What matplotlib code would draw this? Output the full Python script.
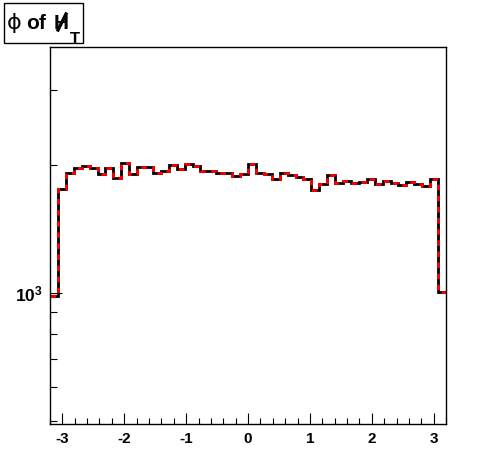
import numpy as np
import matplotlib
matplotlib.use('Agg')
import matplotlib.pyplot as plt
from matplotlib.ticker import FixedLocator, NullFormatter, FixedFormatter, MultipleLocator
from matplotlib.patches import Rectangle
from matplotlib.lines import Line2D

# histogram binning
x_min, x_max, n_bins = -3.2, 3.2, 50
# bin contents
counts = [984, 1757, 1916, 1965, 1987, 1965, 1903, 1965, 1865, 2020,
          1903, 1976, 1976, 1919, 1940, 1998, 1958, 2015, 1993, 1932,
          1932, 1920, 1920, 1888, 1903, 2012, 1913, 1903, 1852, 1919,
          1898, 1878, 1852, 1750, 1803, 1892, 1815, 1835, 1818, 1828,
          1858, 1808, 1837, 1812, 1798, 1828, 1803, 1789, 1858, 1005]
x_ticks = [-3, -2, -1, 0, 1, 2, 3]
x_tick_labels = ['-3', '-2', '-1', '0', '1', '2', '3']
y_major = [1000]
y_major_labels = [r'$\mathbf{10^{3}}$']
y_minor = [500, 600, 700, 800, 900, 2000, 3000]
y_range = (492, 3790)

plt.rcParams['font.family'] = ['Liberation Sans', 'DejaVu Sans']
plt.rcParams['mathtext.fontset'] = 'custom'
plt.rcParams['mathtext.rm'] = 'Liberation Sans'
plt.rcParams['mathtext.bf'] = 'Liberation Sans:bold'

W, H = 496, 472
fig = plt.figure(figsize=(W / 100, H / 100), dpi=100)
fig.patch.set_facecolor('white')

L, R, T, B = 50, 446, 47, 424
ax = fig.add_axes([L / W, 1 - B / H, (R - L) / W, (B - T) / H])

edges = np.linspace(x_min, x_max, n_bins + 1)
ax.stairs(counts, edges, color='black', linewidth=2.0, baseline=None)
ax.stairs(counts, edges, color='red', linewidth=2.0, baseline=None,
          linestyle=(0, (2.0, 2.0)))

ax.set_yscale('log')
ax.set_xlim(x_min, x_max)
ax.set_ylim(*y_range)

ax.xaxis.set_major_locator(FixedLocator(x_ticks))
ax.xaxis.set_major_formatter(FixedFormatter(x_tick_labels))
ax.xaxis.set_minor_locator(MultipleLocator(0.2))
ax.yaxis.set_major_locator(FixedLocator(y_major))
ax.yaxis.set_major_formatter(FixedFormatter(y_major_labels))
ax.yaxis.set_minor_locator(FixedLocator(y_minor))
ax.yaxis.set_minor_formatter(NullFormatter())

ax.tick_params(axis='x', which='major', direction='in', length=8, width=0.8,
               labelsize=11, pad=6, top=False)
ax.tick_params(axis='x', which='minor', direction='in', length=4, width=0.8, top=False)
ax.tick_params(axis='y', which='major', direction='in', length=8.6, width=0.8,
               labelsize=12.5, pad=5, right=False)
ax.tick_params(axis='y', which='minor', direction='in', length=5, width=0.8, right=False)
for lab in ax.get_xticklabels():
    lab.set_fontweight('bold')
for sp in ax.spines.values():
    sp.set_linewidth(1.0)

# title box
def fx(px):
    return px / W

def fy(py):
    return 1 - py / H

fig.add_artist(Rectangle((fx(4), fy(43)), fx(83) - fx(4), fy(3) - fy(43),
                         transform=fig.transFigure, fill=False,
                         edgecolor='black', linewidth=1.0))
fig.text(fx(7), fy(29), '\u03d5', fontsize=16, family=['DejaVu Sans'],
         va='baseline', ha='left')
fig.text(fx(26), fy(29), 'of', fontsize=15, fontweight='bold', va='baseline', ha='left')
fig.text(fx(54), fy(29), 'H', fontsize=15, fontweight='bold', va='baseline', ha='left')
# slash through the H (missing-momentum notation)
fig.add_artist(Line2D([fx(58), fx(66)], [fy(30), fy(14)], transform=fig.transFigure,
                      color='black', linewidth=2.4))
fig.text(fx(70), fy(44), 'T', fontsize=12, fontweight='bold', va='baseline', ha='left')

fig.savefig('out.png', dpi=100)
